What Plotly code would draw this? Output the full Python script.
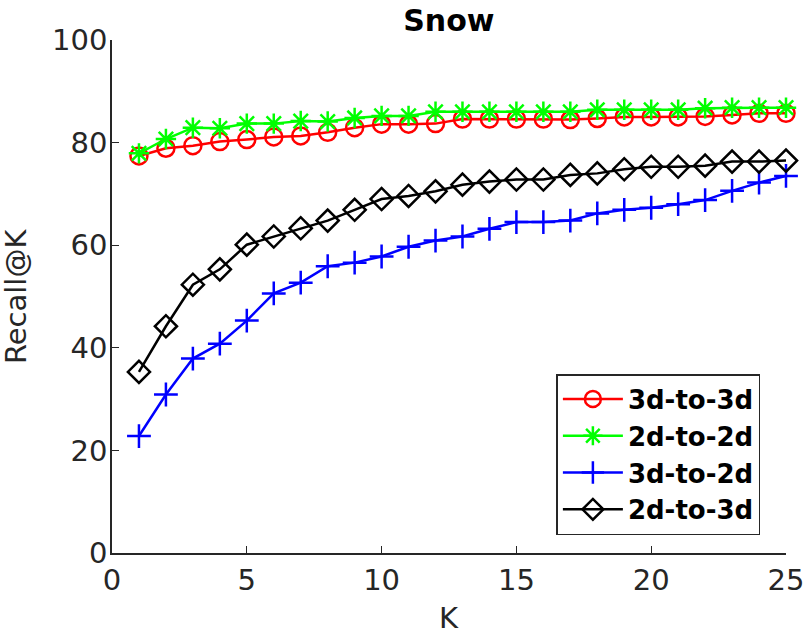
import plotly.graph_objects as go

k_values = list(range(1, 26))

recall_3d_to_3d = [77.4, 78.9, 79.4, 80.2, 80.6, 81.1, 81.3, 82.0, 82.9, 83.6, 83.6, 83.7, 84.6,
                   84.6, 84.6, 84.6, 84.5, 84.7, 85.0, 85.0, 85.0, 85.1, 85.4, 85.7, 85.7]
recall_2d_to_2d = [77.9, 80.7, 82.9, 82.8, 83.7, 83.7, 84.2, 84.1, 84.8, 85.2, 85.2, 86.0, 86.0,
                   86.0, 86.0, 86.0, 86.0, 86.4, 86.4, 86.4, 86.4, 86.7, 86.8, 86.8, 86.8]
recall_3d_to_2d = [22.8, 30.9, 37.9, 40.8, 45.3, 50.6, 52.7, 55.9, 56.6, 57.8, 59.7, 60.9, 61.7,
                   63.2, 64.5, 64.5, 64.8, 66.2, 66.9, 67.3, 68.0, 68.8, 70.6, 72.2, 73.5]
recall_2d_to_3d = [35.3, 44.2, 52.3, 55.3, 60.1, 61.7, 63.3, 64.8, 66.9, 69.0, 69.6, 70.5, 71.8,
                   72.4, 72.8, 72.8, 73.7, 74.0, 74.8, 75.3, 75.3, 75.5, 76.3, 76.3, 76.5]

series = [
    ("3d-to-3d", recall_3d_to_3d, "#ff0000", "circle-open"),
    ("2d-to-2d", recall_2d_to_2d, "#00ff00", "asterisk-open"),
    ("3d-to-2d", recall_3d_to_2d, "#0000ff", "cross-thin-open"),
    ("2d-to-3d", recall_2d_to_3d, "#000000", "diamond-open"),
]

fig = go.Figure()
for name, vals, color, symbol in series:
    fig.add_trace(go.Scatter(
        x=k_values, y=vals, mode="lines+markers", name="<b>" + name + "</b>", cliponaxis=False,
        line=dict(color=color, width=2.5),
        marker=dict(symbol=symbol, size=17, color=color, line=dict(color=color, width=2.5)),
    ))

axis_font = dict(family="DejaVu Sans", size=29, color="#262626")

fig.update_layout(
    width=803, height=635,
    margin=dict(l=112, r=17, t=40, b=82),
    plot_bgcolor="white", paper_bgcolor="white",
    title=dict(text="<b>Snow</b>", x=0.559, xanchor="center", y=0.984, yanchor="top",
               font=dict(family="DejaVu Sans", size=30, color="black")),
    legend=dict(x=0.962, y=0.035, xanchor="right", yanchor="bottom",
                bordercolor="#262626", borderwidth=1.5, bgcolor="white",
                font=dict(family="DejaVu Sans", size=26, color="black"),
                itemwidth=60, tracegroupgap=0),
    showlegend=True,
)
fig.update_xaxes(range=[0, 25], tickvals=[0, 5, 10, 15, 20, 25], ticks="inside", ticklen=7,
                 tickcolor="#262626", showline=True, linecolor="#262626", linewidth=1.5,
                 showgrid=False, zeroline=False, tickfont=axis_font, automargin=False,
                 ticklabeloverflow="allow")
fig.update_yaxes(range=[0, 100], tickvals=[0, 20, 40, 60, 80, 100], ticks="inside", ticklen=7,
                 tickcolor="#262626", showline=True, linecolor="#262626", linewidth=1.5,
                 showgrid=False, zeroline=False, tickfont=axis_font, automargin=False,
                 ticklabeloverflow="allow", ticklabelstandoff=-3)

# axis titles as annotations so they can sit close to the page edges
fig.add_annotation(text="K", xref="paper", yref="paper", x=0.5, y=-0.126,
                   xanchor="center", yanchor="middle", showarrow=False, font=axis_font)
fig.add_annotation(text="Recall@K", xref="paper", yref="paper", x=-0.143, y=0.5,
                   xanchor="center", yanchor="middle", textangle=-90, showarrow=False,
                   font=axis_font)

# the page body has a default 8px margin; drop it so the figure fills the window
fig.write_html("out.html", config={"displayModeBar": False},
               post_script="document.body.style.margin='0';")
